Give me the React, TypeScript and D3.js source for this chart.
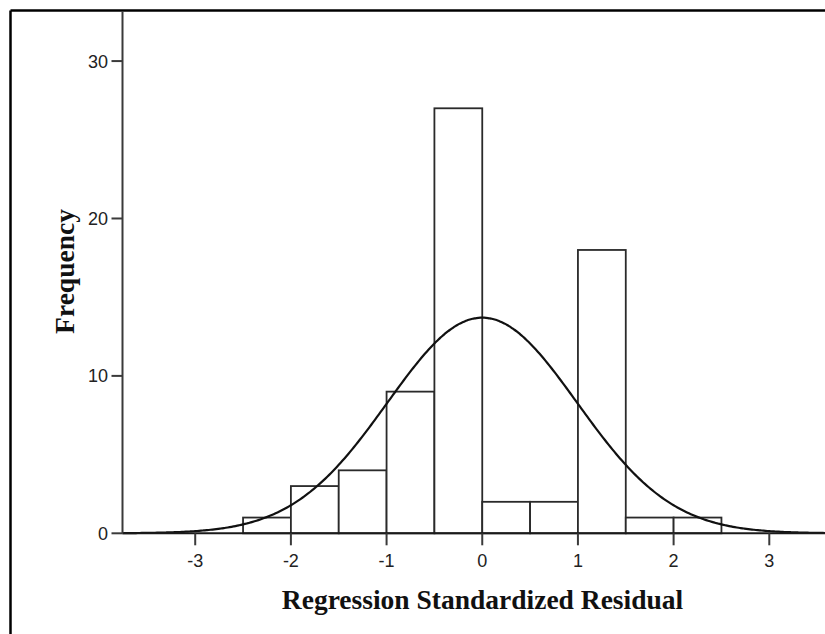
import React from "react";
import * as d3 from "d3";

// Histogram bins (regression standardized residual) and frequencies
const binStarts = [-2.5, -2, -1.5, -1, -0.5, 0, 0.5, 1, 1.5, 2];
const binWidth = 0.5;
const counts = [1, 3, 4, 9, 27, 2, 2, 18, 1, 1];
const xTicks = [-3, -2, -1, 0, 1, 2, 3];
const yTicks = [0, 10, 20, 30];
// Fitted normal curve parameters
const curveMean = 0;
const curveSD = 0.99;

const W = 825;
const H = 634;

export default function App() {
  const x = d3.scaleLinear().domain([-3.76, 3.76]).range([122.5, 842]);
  const y = d3.scaleLinear().domain([0, 33.2]).range([533.3, 10.7]);
  const n = d3.sum(counts);
  const pdf = (v: number) =>
    (1 / (curveSD * Math.sqrt(2 * Math.PI))) *
    Math.exp(-((v - curveMean) ** 2) / (2 * curveSD * curveSD));
  const pts = d3.range(-3.76, 3.7601, 0.02).map((v) => [v, n * binWidth * pdf(v)] as [number, number]);
  const line = d3
    .line<[number, number]>()
    .x((d) => x(d[0]))
    .y((d) => y(d[1]))
    .curve(d3.curveBasis);

  const tickFont = "'Liberation Sans', Arial, sans-serif";
  const titleFont = "'Liberation Serif', 'Times New Roman', serif";

  return (
    <>
      <style>{"body{margin:0}"}</style>
      <svg width={W} height={H} style={{ display: "block", background: "#fff" }}>
        {/* outer frame */}
        <line x1={10.5} y1={10.5} x2={W} y2={10.5} stroke="#000" strokeWidth={2.5} />
        <line x1={10.5} y1={10.5} x2={10.5} y2={H} stroke="#000" strokeWidth={2.5} />

        {/* bars */}
        {binStarts.map((b, i) => (
          <rect
            key={i}
            x={x(b)}
            y={y(counts[i])}
            width={x(b + binWidth) - x(b)}
            height={y(0) - y(counts[i])}
            fill="#fff"
            stroke="#2a2a2a"
            strokeWidth={1.8}
          />
        ))}

        {/* normal curve */}
        <path d={line(pts) || ""} fill="none" stroke="#111" strokeWidth={2.2} />

        {/* axes */}
        <line x1={x(-3.76)} y1={y(0)} x2={W} y2={y(0)} stroke="#1a1a1a" strokeWidth={2} />
        <line x1={x(-3.76)} y1={11} x2={x(-3.76)} y2={y(0)} stroke="#3a3a3a" strokeWidth={2} />

        {yTicks.map((t) => (
          <g key={"y" + t}>
            <line x1={x(-3.76) - 11} x2={x(-3.76)} y1={y(t)} y2={y(t)} stroke="#3a3a3a" strokeWidth={2} />
            <text
              x={108}
              y={y(t)}
              dy="0.36em"
              textAnchor="end"
              fontFamily={tickFont}
              fontSize={18}
              fill="#222"
            >
              {t}
            </text>
          </g>
        ))}

        {xTicks.map((t) => (
          <g key={"x" + t}>
            <line x1={x(t)} x2={x(t)} y1={y(0)} y2={y(0) + 12} stroke="#3a3a3a" strokeWidth={2} />
            <text
              x={x(t)}
              y={566.5}
              textAnchor="middle"
              fontFamily={tickFont}
              fontSize={18}
              fill="#222"
            >
              {t}
            </text>
          </g>
        ))}

        {/* axis titles */}
        <text
          x={482.5}
          y={609}
          textAnchor="middle"
          fontFamily={titleFont}
          fontWeight="bold"
          fontSize={27.5}
          fill="#111"
        >
          Regression Standardized Residual
        </text>
        <text
          transform="translate(74,271.5) rotate(-90)"
          textAnchor="middle"
          fontFamily={titleFont}
          fontWeight="bold"
          fontSize={27.5}
          fill="#111"
        >
          Frequency
        </text>
      </svg>
    </>
  );
}
